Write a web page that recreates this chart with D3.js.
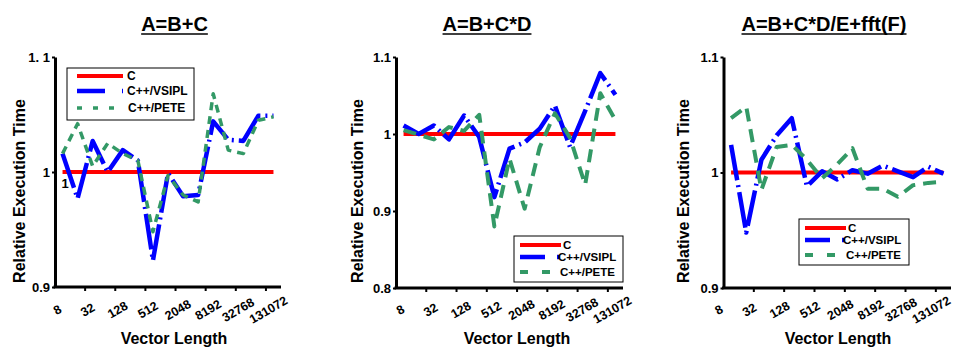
<!DOCTYPE html>
<html>
<head>
<meta charset="utf-8">
<script src="https://cdn.jsdelivr.net/npm/d3@7"></script>
<style>
body { margin: 0; background: #fff; }
svg text { font-family: "Liberation Sans", Arial, sans-serif; font-weight: bold; fill: #000; }
</style>
</head>
<body>
<svg id="chart" width="954" height="350"></svg>
<script>
// categories: vector length 2^3 .. 2^17
const vectorLengths = [8, 16, 32, 64, 128, 256, 512, 1024, 2048, 4096, 8192, 16384, 32768, 65536, 131072];
const tickLabels = ["8", "32", "128", "512", "2048", "8192", "32768", "131072"];
const seriesNames = ["C", "C++/VSIPL", "C++/PETE"];

// A=B+C
const addC     = [1, 1, 1, 1, 1, 1, 1, 1, 1, 1, 1, 1, 1, 1, 1];
const addVsipl = [1.016, 0.977, 1.027, 1.000, 1.019, 1.010, 0.923, 0.999, 0.979, 0.980, 1.044, 1.028, 1.027, 1.049, 1.049];
const addPete  = [1.016, 1.042, 1.005, 1.025, 1.016, 1.010, 0.948, 0.997, 0.980, 0.974, 1.068, 1.019, 1.016, 1.045, 1.048];

// A=B+C*D
const mulC     = [1, 1, 1, 1, 1, 1, 1, 1, 1, 1, 1, 1, 1, 1, 1];
const mulVsipl = [1.011, 1.000, 1.011, 0.993, 1.024, 0.996, 0.918, 0.981, 0.989, 1.007, 1.037, 0.983, 1.030, 1.079, 1.051];
const mulPete  = [1.005, 0.999, 0.993, 1.009, 1.004, 1.025, 0.880, 0.968, 0.903, 0.983, 1.027, 0.995, 0.934, 1.053, 1.018];

// A=B+C*D/E+fft(F)
const fftC     = [1, 1, 1, 1, 1, 1, 1, 1, 1, 1, 1, 1, 1, 1, 1];
const fftVsipl = [1.024, 0.948, 1.011, 1.032, 1.047, 0.988, 1.001, 0.994, 1.002, 0.999, 1.006, 1.001, 0.996, 1.005, 0.999];
const fftPete  = [1.047, 1.057, 0.985, 1.022, 1.024, 1.011, 0.995, 1.007, 1.021, 0.986, 0.986, 0.979, 0.989, 0.991, 0.992];

const colors = ["#ff0000", "#0000ff", "#339966"];

const panels = [
  {
    title: "A=B+C", series: [addC, addVsipl, addPete],
    left: 55, right: 281, top: 57, bottom: 287,
    domain: [0.9, 1.1], yTicks: [0.9, 1, 1.1],
    yFormat: d => d === 1.1 ? "1. 1" : String(d),
    titleX: 174.5, yTitleX: 25, xTitleX: 174, labelDx: -5,
    dashes: [null, "36,5,2,5", "8,6"], widths: [4, 4.5, 3.5],
    legend: { x: 67, y: 68, w: 127, h: 52, rows: [76, 91, 108], x1: 77, x2: 123, textX: [127, 127, 128], size: 12,
              dashes: [null, "28,17,2,40", "5,11"] }
  },
  {
    title: "A=B+C*D", series: [mulC, mulVsipl, mulPete],
    left: 396, right: 623, top: 57, bottom: 288,
    domain: [0.8, 1.1], yTicks: [0.8, 0.9, 1, 1.1],
    yFormat: d => String(d),
    titleX: 487, yTitleX: 363, xTitleX: 517, labelDx: -3,
    dashes: [null, "36,5,2,5", "13,8"], widths: [4, 4.5, 4],
    legend: { x: 514, y: 236, w: 109, h: 46, rows: [245, 257, 272], x1: 520, x2: 561, textX: [563, 558, 560], size: 11.5,
              dashes: [null, "25,12,2,40", "8,14"] }
  },
  {
    title: "A=B+C*D/E+fft(F)", series: [fftC, fftVsipl, fftPete],
    left: 723.5, right: 951, top: 57, bottom: 288,
    domain: [0.9, 1.1], yTicks: [0.9, 1, 1.1],
    yFormat: d => String(d),
    titleX: 824, yTitleX: 689, xTitleX: 838, labelDx: -12,
    dashes: [null, "36,5,2,5", "13,8"], widths: [4, 4.5, 4],
    legend: { x: 799, y: 219, w: 110, h: 46, rows: [228, 240, 255], x1: 805, x2: 846, textX: [848, 843, 846], size: 11.5,
              dashes: [null, "25,12,2,40", "8,14"] }
  }
];

const svg = d3.select("#chart");

function drawPanel(p) {
  const g = svg.append("g");
  const x = d3.scaleBand().domain(vectorLengths).range([p.left, p.right]);
  const y = d3.scaleLinear().domain(p.domain).range([p.bottom, p.top]);
  const cx = d => x(d) + x.bandwidth() / 2;

  // underlined title
  const title = g.append("text")
    .attr("x", p.titleX).attr("y", 31)
    .attr("text-anchor", "middle").attr("font-size", 20)
    .text(p.title);
  const tw = title.node().getComputedTextLength();
  g.append("line")
    .attr("x1", p.titleX - tw / 2).attr("x2", p.titleX + tw / 2)
    .attr("y1", 34).attr("y2", 34)
    .attr("stroke", "#000").attr("stroke-width", 1.5);

  // y axis
  const ga = g.append("g")
    .attr("transform", `translate(${p.left},0)`)
    .call(d3.axisLeft(y).tickValues(p.yTicks).tickSize(3).tickSizeOuter(0).tickPadding(2).tickFormat(p.yFormat));
  ga.attr("font-size", 13).attr("font-family", null);
  ga.select(".domain").attr("stroke", "#000").attr("stroke-width", 3);
  ga.selectAll(".tick line").attr("stroke", "#000").attr("stroke-width", 2);

  // x axis (category boundaries every 2 categories)
  g.append("line")
    .attr("x1", p.left - 1.5).attr("x2", p.right)
    .attr("y1", p.bottom).attr("y2", p.bottom)
    .attr("stroke", "#000").attr("stroke-width", 3);
  g.selectAll(".xtick")
    .data(vectorLengths.filter((d, i) => i > 0 && i % 2 === 0))
    .join("line")
      .attr("class", "xtick")
      .attr("x1", d => x(d)).attr("x2", d => x(d))
      .attr("y1", p.bottom).attr("y2", p.bottom + 4)
      .attr("stroke", "#000").attr("stroke-width", 2);
  g.selectAll(".xlab")
    .data(vectorLengths.filter((d, i) => i % 2 === 0))
    .join("text")
      .attr("class", "xlab")
      .attr("transform", d => `translate(${cx(d) + p.labelDx},310) rotate(-30)`)
      .attr("text-anchor", "middle")
      .attr("dominant-baseline", "central")
      .attr("font-size", 12.5)
      .text((d, i) => tickLabels[i]);

  // axis titles
  g.append("text")
    .attr("transform", `translate(${p.yTitleX},191) rotate(-90)`)
    .attr("text-anchor", "middle").attr("font-size", 16)
    .text("Relative Execution Time");
  g.append("text")
    .attr("x", p.xTitleX).attr("y", 344)
    .attr("text-anchor", "middle").attr("font-size", 16)
    .text("Vector Length");

  // series lines
  const line = d3.line()
    .x((d, i) => cx(vectorLengths[i]))
    .y(d => y(d));
  p.series.forEach((s, k) => {
    g.append("path")
      .datum(s)
      .attr("d", line)
      .attr("fill", "none")
      .attr("stroke", colors[k])
      .attr("stroke-width", p.widths[k])
      .attr("stroke-linejoin", "round")
      .attr("stroke-dasharray", p.dashes[k]);
  });

  // legend
  const L = p.legend;
  const lg = g.append("g");
  lg.append("rect")
    .attr("x", L.x).attr("y", L.y).attr("width", L.w).attr("height", L.h)
    .attr("fill", "#fff").attr("stroke", "#000").attr("stroke-width", 1);
  seriesNames.forEach((name, k) => {
    lg.append("line")
      .attr("x1", L.x1).attr("x2", L.x2)
      .attr("y1", L.rows[k]).attr("y2", L.rows[k])
      .attr("stroke", colors[k])
      .attr("stroke-width", p.widths[k])
      .attr("stroke-dasharray", L.dashes[k]);
    lg.append("text")
      .attr("x", L.textX[k]).attr("y", L.rows[k])
      .attr("dominant-baseline", "central")
      .attr("font-size", L.size)
      .text(name);
  });
}

panels.forEach(drawPanel);

// stray "1" label inside the first plot
svg.append("text")
  .attr("x", 65).attr("y", 183)
  .attr("text-anchor", "middle").attr("dominant-baseline", "central")
  .attr("font-size", 13)
  .text("1");
</script>
</body>
</html>
